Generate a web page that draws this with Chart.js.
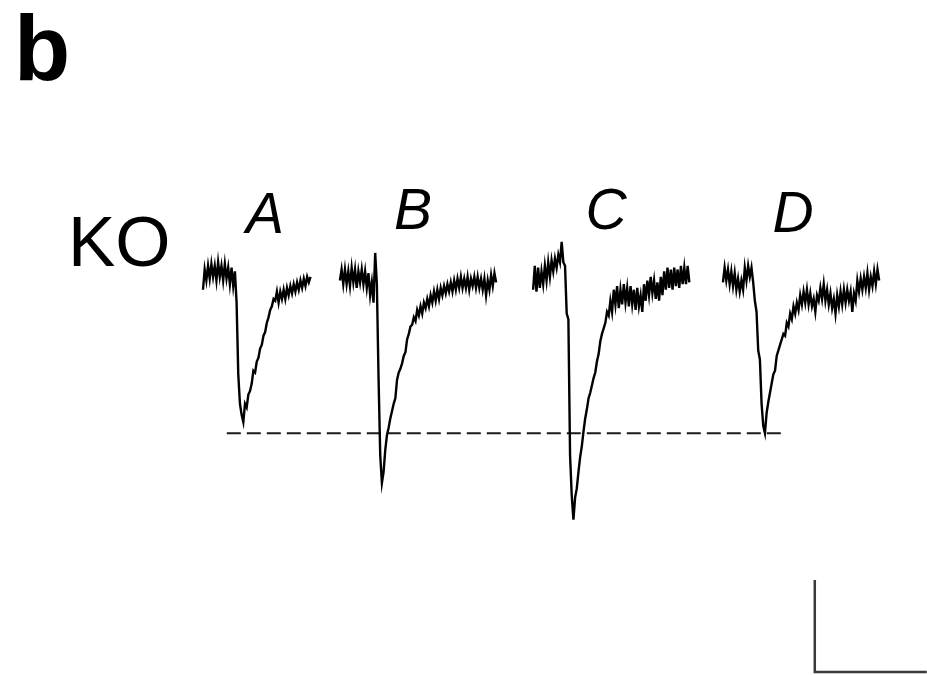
<!DOCTYPE html>
<html>
<head>
<meta charset="utf-8">
<script src="https://cdn.jsdelivr.net/npm/chart.js@4.4.1/dist/chart.umd.min.js"></script>
<style>
  html, body { margin: 0; padding: 0; background: #fff; }
  #wrap { width: 927px; height: 675px; position: relative; }
</style>
</head>
<body>
<div id="wrap"><canvas id="c" width="927" height="675"></canvas></div>
<script>
// Evoked currents in KO cells, four sweeps (A-D), sampled every 0.3 ms.
const SAMPLE_MS = 0.3;
const traceNames = ['A', 'B', 'C', 'D'];
const traceStartMs = [36.25, 60.7, 95.2, 129.1];

// Current (pA) per sample
const currentA = [-8, 3, -3, 5, -2, 6, -1, 5, -3, 7, -1, 5, -3, 6, -2, 4, -5, 4, -6, 2,
  -15, -54, -70, -76, -80, -70, -72, -65, -63, -59, -52, -53, -47, -45, -40, -38, -33, -31, -26, -23,
  -19, -17, -13, -14, -9, -15, -9, -13, -8, -13, -7, -11, -6, -10, -5, -9, -4, -8, -3, -7,
  -2, -6, -1, -4, -1];

const currentB = [-3, 3, -5, 3, -5, 2, -6, 4, -4, 3, -7, 2, -4, 3, -5, 2, -7, 1, -11, -4,
  -15, 12, -5, -56, -98, -113, -107, -95, -87, -83, -78, -74, -70, -67, -57, -53, -51, -48, -44, -42,
  -35, -32, -28, -27, -23, -25, -19, -22, -17, -21, -15, -18, -13, -17, -11, -15, -9, -14, -8, -13,
  -7, -11, -6, -10, -5, -9, -4, -9, -3, -8, -2, -7, -1, -7, -2, -7, -1, -8, -2, -6,
  -1, -7, -1, -7, -2, -8, -2, -11, -3, -8, 0, -6, 1, -4];

const currentC = [-8, 5, -9, 4, -7, 2, -5, 5, -3, 7, -1, 8, 2, 9, 4, 11, 7, 18, 7, 5,
  -21, -24, -98, -120, -133, -121, -116, -107, -99, -93, -85, -78, -73, -67, -64, -60, -56, -53, -47, -43,
  -36, -32, -29, -26, -20, -22, -14, -20, -8, -16, -6, -18, -8, -16, -5, -15, -7, -17, -6, -16,
  -8, -19, -7, -17, -11, -20, -5, -14, -3, -11, -1, -10, -3, -13, -4, -14, -1, -11, 2, -8,
  4, -7, 3, -8, 4, -6, 3, -7, 5, -5, 4, -5, 5, -4];

const currentD = [-4, 4, -3, 3, -5, 2, -6, 1, -8, -2, -9, -3, -8, 4, -3, 5, -1, 4, -4, -14,
  -20, -41, -46, -70, -82, -86, -75, -69, -64, -59, -54, -52, -44, -41, -38, -35, -32, -33, -26, -28,
  -21, -24, -17, -21, -15, -19, -11, -16, -9, -15, -8, -16, -10, -17, -13, -20, -11, -14, -7, -13,
  -5, -14, -8, -16, -10, -18, -13, -21, -11, -17, -9, -16, -8, -15, -8, -14, -9, -20, -10, -14,
  -3, -9, -2, -8, -1, -7, 1, -8, -1, -6, 2, -5, 3, -3];

const traceCurrents = [currentA, currentB, currentC, currentD];

// Reference line span (ms) and scale bar (20 ms, 50 pA)
const refLineMs = [40.5, 140.4];
const scaleBarOriginMs = 145.5;
const scaleBarOriginPA = -215.8;
const scaleBarMs = 20;
const scaleBarPA = 50;

// Axis ranges (ms, pA)
const xRange = [0, 165.54];
const yRange = [-217.39, 149.46];

function toPoints(startMs, values) {
  return values.map((v, i) => ({ x: startMs + i * SAMPLE_MS, y: v }));
}

const datasets = traceCurrents.map((vals, k) => ({
  label: traceNames[k],
  data: toPoints(traceStartMs[k], vals),
  borderColor: '#000',
  borderWidth: 2.4,
  borderJoinStyle: 'miter',
  pointRadius: 0,
  tension: 0,
  fill: false
}));

// Dashed line at the largest peak of sweep D
const refLevel = Math.min(...currentD);
datasets.push({
  label: 'ref',
  data: [{ x: refLineMs[0], y: refLevel }, { x: refLineMs[1], y: refLevel }],
  borderColor: '#1a1a1a',
  borderWidth: 2,
  borderDash: [14, 6],
  pointRadius: 0,
  fill: false
});

datasets.push({
  label: 'scale',
  data: [
    { x: scaleBarOriginMs, y: scaleBarOriginPA + scaleBarPA },
    { x: scaleBarOriginMs, y: scaleBarOriginPA },
    { x: scaleBarOriginMs + scaleBarMs, y: scaleBarOriginPA }
  ],
  borderColor: '#3a3a3a',
  borderWidth: 2.5,
  pointRadius: 0,
  fill: false,
  clip: false
});

const labelPlugin = {
  id: 'panelLabels',
  afterDraw(chart) {
    const ctx = chart.ctx;
    ctx.save();
    ctx.fillStyle = '#000';
    ctx.textBaseline = 'alphabetic';
    ctx.textAlign = 'left';
    ctx.font = 'bold 92px "Liberation Sans", Arial, sans-serif';
    ctx.fillText('b', 14, 80);
    ctx.font = '71px "Liberation Sans", Arial, sans-serif';
    ctx.fillText('KO', 68, 266);
    ctx.font = 'italic 57px "Liberation Sans", Arial, sans-serif';
    ctx.textAlign = 'center';
    const pos = [[265, 233], [413, 229], [606, 229], [793, 232]];
    traceNames.forEach((n, k) => ctx.fillText(n, pos[k][0], pos[k][1]));
    ctx.restore();
  }
};

new Chart(document.getElementById('c'), {
  type: 'line',
  data: { datasets },
  options: {
    responsive: false,
    animation: false,
    devicePixelRatio: 1,
    layout: { padding: 0 },
    plugins: { legend: { display: false }, tooltip: { enabled: false } },
    scales: {
      x: { type: 'linear', min: xRange[0], max: xRange[1], display: false },
      y: { type: 'linear', min: yRange[0], max: yRange[1], display: false }
    }
  },
  plugins: [labelPlugin]
});
</script>
</body>
</html>
